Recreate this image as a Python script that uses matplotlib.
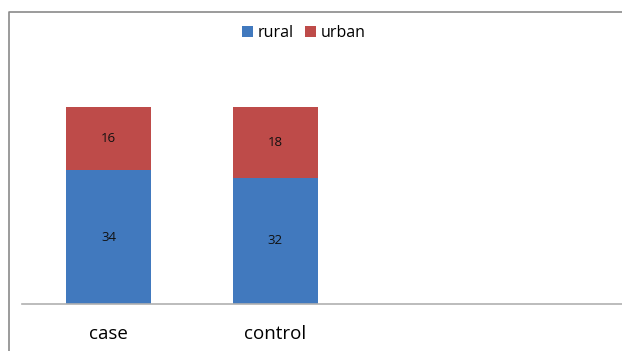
import matplotlib
matplotlib.use("Agg")
import matplotlib.pyplot as plt
from matplotlib.lines import Line2D

groups = ["case", "control"]
rural = [34, 32]
urban = [16, 18]
series_names = ["rural", "urban"]

BLUE = "#4179BE"
RED = "#BE4B49"

plt.rcParams["font.family"] = ["Open Sans", "DejaVu Sans"]

W, H = 622, 351
fig = plt.figure(figsize=(W / 100, H / 100), dpi=100)

# chart area border (left and top edges visible)
fx = 9 / W
fy = 1 - 12 / H
fig.add_artist(Line2D([fx, fx, 1.0], [0.0, fy, fy], color="#8a8a8a", lw=1.2,
                      transform=fig.transFigure))

ax = fig.add_axes([22 / W, 47 / H, 1 - 22 / W, (304 - 12) / H])
x = list(range(len(groups)))
width = 0.51
b1 = ax.bar(x, rural, width, color=BLUE, label=series_names[0])
b2 = ax.bar(x, urban, width, bottom=rural, color=RED, label=series_names[1])

for xi, r, u in zip(x, rural, urban):
    ax.text(xi, r / 2, str(r), ha="center", va="center", fontsize=9.5, color="#111")
    ax.text(xi, r + u / 2, str(u), ha="center", va="center", fontsize=9.5, color="#111")

ax.set_xlim(-0.518, 3.075)
ax.set_ylim(0, 74.1)
ax.set_yticks([])
ax.set_xticks(x)
ax.set_xticklabels(groups, fontsize=13.5)
ax.tick_params(axis="x", length=0, pad=15)
for s in ["top", "right", "left"]:
    ax.spines[s].set_visible(False)
ax.spines["bottom"].set_color("#b0b0b0")
ax.spines["bottom"].set_linewidth(1.2)

fig.legend(handles=[b1, b2], labels=series_names, loc="center",
           bbox_to_anchor=(304 / W, 1 - 33 / H), ncol=2, frameon=False,
           fontsize=11.5, handlelength=0.7, handleheight=0.75,
           columnspacing=0.7, handletextpad=0.3)

fig.savefig("out.png", dpi=100)
